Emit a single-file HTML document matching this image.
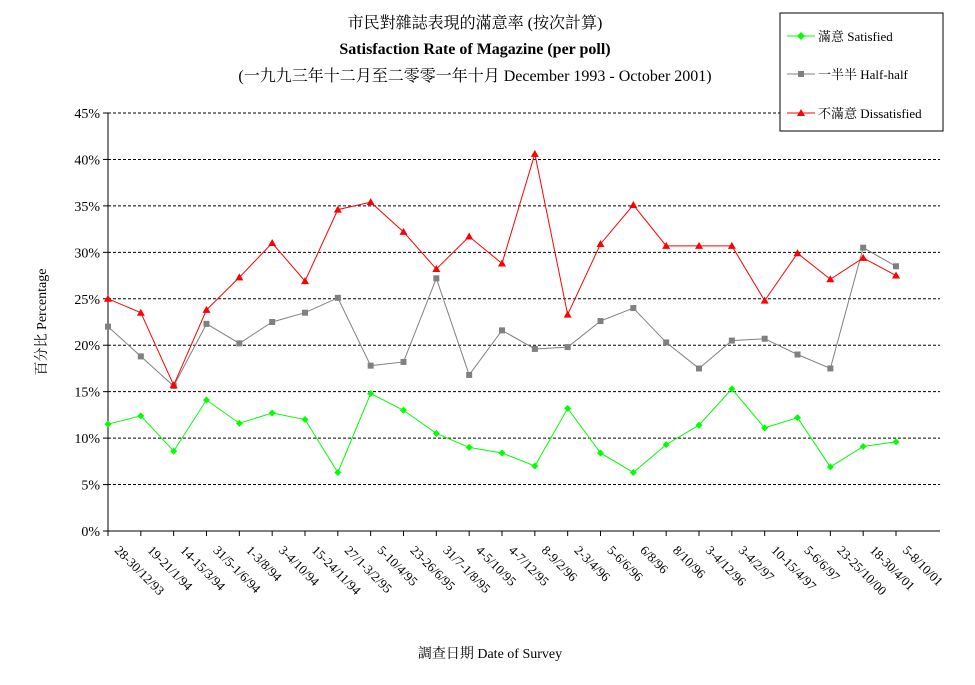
<!DOCTYPE html>
<html><head><meta charset="utf-8">
<style>
body{margin:0;background:#fff;}
svg text{font-family:"Liberation Serif","Noto Serif CJK SC","Noto Sans CJK TC",serif;fill:#000;}
</style></head>
<body>
<svg id="chart" width="975" height="680" viewBox="0 0 975 680">
<g>
<text x="475" y="28" font-size="16" text-anchor="middle">市民對雜誌表現的滿意率 (按次計算)</text>
<text x="475" y="54" font-size="16" font-weight="bold" text-anchor="middle">Satisfaction Rate of Magazine (per poll)</text>
<text x="475" y="81" font-size="16" text-anchor="middle">(一九九三年十二月至二零零一年十月 December 1993 - October 2001)</text>
</g>
<g id="grid"></g>
<g id="axes"></g>
<g id="series"></g>
<text transform="translate(46,322) rotate(-90)" font-size="14" text-anchor="middle">百分比 Percentage</text>
<text x="490" y="658" font-size="14" text-anchor="middle">調查日期 Date of Survey</text>
<g>
<rect x="780" y="13" width="163" height="118" fill="#fff" stroke="#000"/>
<g>
<line x1="787" y1="36" x2="815" y2="36" stroke="#00ff00"/><path d="M801 32 L805 36 L801 40 L797 36Z" fill="#00ff00"/>
<text x="818" y="41" font-size="13">滿意 Satisfied</text></g>
<g>
<line x1="787" y1="74" x2="815" y2="74" stroke="#808080"/><rect x="798" y="71" width="6" height="6" fill="#808080"/>
<text x="818" y="79" font-size="13">一半半 Half-half</text></g>
<g>
<line x1="787" y1="113" x2="815" y2="113" stroke="#ff0000"/><path d="M801 109 L805 116 L797 116Z" fill="#ff0000"/>
<text x="818" y="118" font-size="13">不滿意 Dissatisfied</text></g>
</g>
</svg>
<script>
const categories=["28-30/12/93","19-21/1/94","14-15/3/94","31/5-1/6/94","1-3/8/94","3-4/10/94","15-24/11/94","27/1-3/2/95","5-10/4/95","23-26/6/95","31/7-1/8/95","4-5/10/95","4-7/12/95","8-9/2/96","2-3/4/96","5-6/6/96","6/8/96","8/10/96","3-4/12/96","3-4/2/97","10-15/4/97","5-6/6/97","23-25/10/00","18-30/4/01","5-8/10/01"];
const dissatisfied=[25,23.5,15.7,23.8,27.3,31,26.9,34.6,35.4,32.2,28.2,31.7,28.8,40.6,23.3,30.9,35.1,30.7,30.7,30.7,24.8,29.9,27.1,29.4,27.5];
const halfHalf=[22,18.8,15.6,22.3,20.2,22.5,23.5,25.1,17.8,18.2,27.2,16.8,21.6,19.6,19.8,22.6,24,20.3,17.5,20.5,20.7,19,17.5,30.5,28.5];
const satisfied=[11.5,12.4,8.6,14.1,11.6,12.7,12,6.3,14.8,13,10.5,9,8.4,7,13.2,8.4,6.3,9.3,11.4,15.3,11.1,12.2,6.9,9.1,9.6];
const yTicks=[0,5,10,15,20,25,30,35,40,45];
const NS="http://www.w3.org/2000/svg";
const X0=108,X1=940,Y0=531,YT=113;
const step=(896-108)/(categories.length-1);
const x=i=>X0+i*step;
const y=v=>Y0-(v/45)*(Y0-YT);
function mk(tag,attrs,parent){const e=document.createElementNS(NS,tag);for(const k in attrs)e.setAttribute(k,attrs[k]);parent.appendChild(e);return e;}
const grid=document.getElementById('grid'),axes=document.getElementById('axes'),ser=document.getElementById('series');
yTicks.forEach(t=>{
 if(t>0){const g=mk('line',{x1:X0,x2:X1,y1:y(t),y2:y(t),stroke:'#000','stroke-dasharray':'3,2'},grid);
 
 }
 const tk=mk('line',{x1:X0-5,x2:X0,y1:y(t),y2:y(t),stroke:'#000'},axes);
 
 
 const tl=mk('text',{x:X0-8,y:y(t)+5,'font-size':14,'text-anchor':'end'},axes);
 tl.textContent=t+'%';
 
 
});
const ya=mk('line',{x1:X0,x2:X0,y1:YT,y2:Y0,stroke:'#000'},axes);


const xa=mk('line',{x1:X0,x2:X1,y1:Y0,y2:Y0,stroke:'#000'},axes);


categories.forEach((c,i)=>{
 const tk=mk('line',{x1:x(i),x2:x(i),y1:Y0,y2:Y0+5,stroke:'#000'},axes);
 
 
 const tl=mk('text',{transform:`translate(${x(i)+6},${Y0+20}) rotate(45)`,'font-size':13},axes);
 tl.textContent=c;
 
 
});
function series(data,color,shape,name){
 const g=mk('g',{},ser);
 
 
 const pl=mk('polyline',{points:data.map((v,i)=>x(i)+','+y(v)).join(' '),fill:'none',stroke:color,'stroke-width':1},g);
 
 
 data.forEach((v,i)=>{
  const cx=x(i),cy=y(v);let m;
  if(shape==='d')m=mk('path',{d:`M${cx} ${cy-3.5}L${cx+3.5} ${cy}L${cx} ${cy+3.5}L${cx-3.5} ${cy}Z`,fill:color},g);
  else if(shape==='s')m=mk('rect',{x:cx-3,y:cy-3,width:6,height:6,fill:color},g);
  else m=mk('path',{d:`M${cx} ${cy-4}L${cx+4} ${cy+3}L${cx-4} ${cy+3}Z`,fill:color},g);
  
  
 });
}
series(halfHalf,'#808080','s','half-half');
series(satisfied,'#00ff00','d','satisfied');
series(dissatisfied,'#ff0000','t','dissatisfied');
</script>
</body></html>
